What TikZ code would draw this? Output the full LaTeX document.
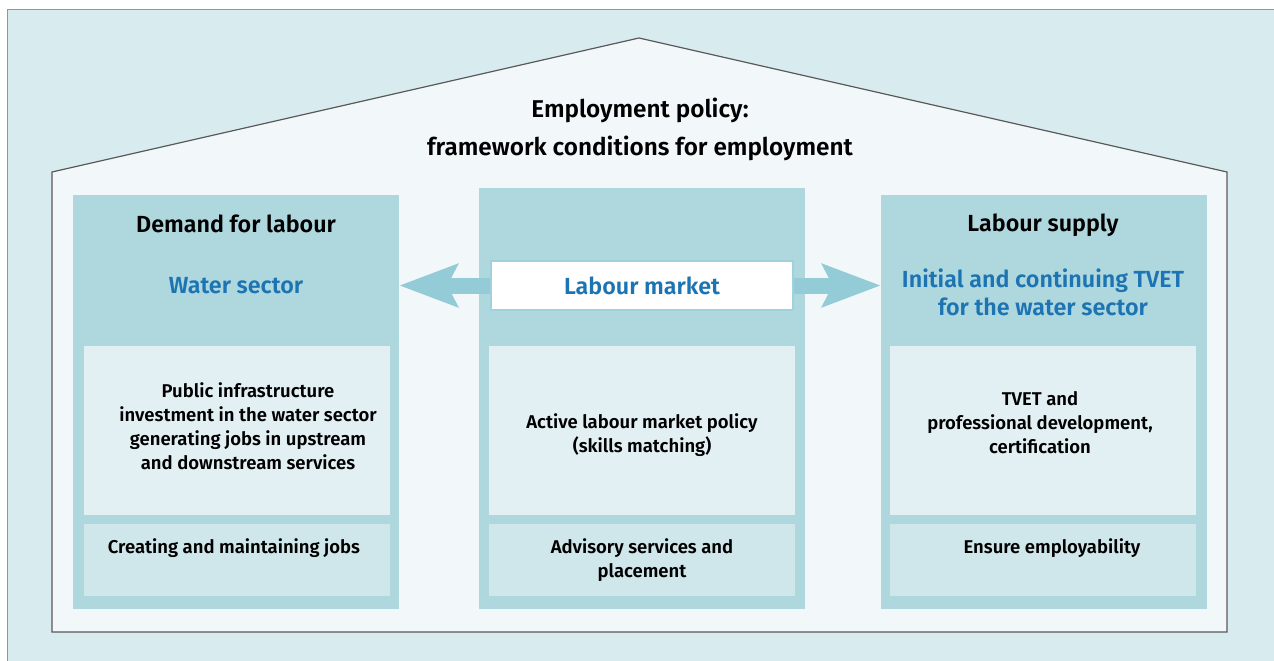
\documentclass[tikz,border=0pt]{standalone}
\usepackage{fontspec}
\setmainfont{Fira Sans}[UprightFont=* SemiBold, BoldFont=* Bold]
\usetikzlibrary{arrows.meta}
\definecolor{bgc}{HTML}{D8EBEF}
\definecolor{framec}{HTML}{6F9BD8}
\definecolor{housec}{HTML}{F2F8FA}
\definecolor{colc}{HTML}{AED7DE}
\definecolor{boxa}{HTML}{E2F0F4}
\definecolor{boxb}{HTML}{CFE6EB}
\definecolor{arrowc}{HTML}{93CBD6}
\definecolor{lmc}{HTML}{9FD2DC}
\definecolor{bluec}{HTML}{1D74B2}
\tikzset{
  body/.style={align=center,font=\fontsize{18.5}{24}\selectfont},
  head/.style={align=center,font=\fontsize{23.3}{28}\selectfont},
  hot/.style={head,text=bluec}
}
\begin{document}
\begin{tikzpicture}[x=1pt,y=-1pt]

        \useasboundingbox (0,0) rectangle (1274,661);
        \fill[white] (0,0) rectangle (1274,661);
        \draw[framec,line width=1.5pt,fill=bgc] (7.5,9.5) rectangle (1290,680);
        \draw[black!65,line width=1.2pt,fill=housec]
          (52,632) -- (52,172) -- (639,38) -- (1227,172) -- (1227,632) -- cycle;

        \node[font=\fontsize{24.3}{38}\selectfont,align=center] (title) at (640,129)
          {Employment policy:\\framework conditions for employment};

        \begin{scope}[every node/.style={rectangle,fill=colc,minimum width=326pt,inner sep=0pt}]
          \node[minimum height=414pt] (dem) at (236,402)   {};
          \node[minimum height=421pt] (mkt) at (642,398.5) {};
          \node[minimum height=414pt] (sup) at (1044,402)  {};
        \end{scope}

        \begin{scope}[every node/.style={rectangle,minimum width=306pt,inner sep=0pt}]
          \node[fill=boxa,minimum height=169pt] (dem1) at (237,430.5)  {};
          \node[fill=boxb,minimum height=72pt]  (dem2) at (237,560)    {};
          \node[fill=boxa,minimum height=169pt] (mkt1) at (642,430.5)  {};
          \node[fill=boxb,minimum height=72pt]  (mkt2) at (642,560)    {};
          \node[fill=boxa,minimum height=169pt] (sup1) at (1043,430.5) {};
          \node[fill=boxb,minimum height=72pt]  (sup2) at (1043,560)   {};
        \end{scope}

        \node[rectangle,fill=white,draw=lmc,line width=2.5pt,minimum width=302pt,
              minimum height=49pt,inner sep=0pt,head,text=bluec] (lm) at (642,285.5) {Labour market};

        \begin{scope}[every edge/.style={draw=arrowc,line width=16pt,
                      -{Stealth[length=58pt,width=42pt,inset=10pt]}}]
          \path (lm.west) edge (lm.west -| dem.east);
          \path (lm.east) edge (lm.east -| sup.west);
        \end{scope}

        \node[head] (demh) at (236,224)  {Demand for labour};
        \node[hot]  (demw) at (236,286)  {Water sector};
        \node[head] (suph) at (1043,225) {Labour supply};
        \node[hot]  (supw) at (1043,292) {Initial and continuing TVET\\for the water sector};

        \begin{scope}[every node/.style={body}]
          \node (dem1t) at (248,426)  {Public infrastructure\\investment in the water sector\\generating jobs in upstream\\and downstream services};
          \node (dem2t) at (234,548)  {Creating and maintaining jobs};
          \node (mkt1t) at (642,435)  {Active labour market policy\\(skills matching)};
          \node (mkt2t) at (642,560)  {Advisory services and\\placement};
          \node (sup1t) at (1040,423) {TVET and\\professional development,\\certification};
          \node (sup2t) at (1052,548) {Ensure employability};
        \end{scope}

      \end{tikzpicture}
\end{document}
